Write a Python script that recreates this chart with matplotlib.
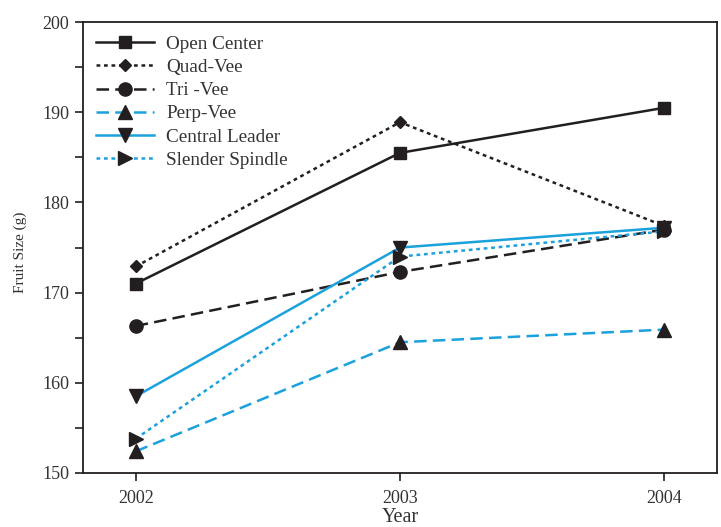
import matplotlib.pyplot as plt
from matplotlib.ticker import MultipleLocator

plt.rcParams['font.family'] = ['Liberation Serif', 'DejaVu Serif']

# Data
years = [2002, 2003, 2004]
open_center = [171.0, 185.5, 190.5]
quad_vee = [172.9, 188.9, 177.4]
tri_vee = [166.3, 172.3, 177.0]
perp_vee = [152.4, 164.5, 165.9]
central_leader = [158.5, 175.0, 177.2]
slender_spindle = [153.8, 174.0, 176.8]

black = '#231f20'
blue = '#1ba1dc'
txt = '#333333'

fig = plt.figure(figsize=(7.21, 5.27), dpi=100)
ax = fig.add_axes([0.115, 0.1025, 0.8795, 0.8555])

lw = 1.8
ms = 9
ax.plot(years, open_center, color=black, linestyle='-', linewidth=lw,
        marker='s', markersize=ms, markerfacecolor=black, markeredgecolor=black,
        label='Open Center')
ax.plot(years, quad_vee, color=black, linestyle=(0, (1.5, 1.5)), linewidth=lw,
        marker='D', markersize=6.5, markerfacecolor=black, markeredgecolor=black,
        label='Quad-Vee')
ax.plot(years, tri_vee, color=black, linestyle=(0, (5, 2.5)), linewidth=lw,
        marker='o', markersize=ms + 0.5, markerfacecolor=black, markeredgecolor=black,
        label='Tri -Vee')
ax.plot(years, perp_vee, color=blue, linestyle=(0, (5, 2.5)), linewidth=lw,
        marker='^', markersize=ms + 0.5, markerfacecolor=black, markeredgecolor=black,
        label='Perp-Vee')
ax.plot(years, central_leader, color=blue, linestyle='-', linewidth=lw,
        marker='v', markersize=ms + 0.5, markerfacecolor=black, markeredgecolor=black,
        label='Central Leader')
ax.plot(years, slender_spindle, color=blue, linestyle=(0, (1.5, 1.5)), linewidth=lw,
        marker='>', markersize=ms + 0.5, markerfacecolor=black, markeredgecolor=black,
        label='Slender Spindle')

ax.set_xlim(2001.8, 2004.2)
ax.set_ylim(150, 200)
ax.set_xticks(years)
ax.set_xticklabels([str(y) for y in years])
ax.yaxis.set_major_locator(MultipleLocator(10))
ax.yaxis.set_minor_locator(MultipleLocator(5))

for s in ax.spines.values():
    s.set_linewidth(1.3)
    s.set_color(black)
ax.tick_params(axis='both', which='both', direction='out', length=6, width=1.2,
               colors=black, labelsize=13, labelcolor=txt)
ax.tick_params(axis='x', pad=6)
ax.tick_params(axis='y', pad=4)

ax.set_xlabel('Year', fontsize=14.5, color=txt, labelpad=1)
ax.set_ylabel('Fruit Size (g)', fontsize=11, color=txt)
ax.yaxis.set_label_coords(-0.088, 0.49)

leg = ax.legend(loc='upper left', frameon=False, fontsize=13.8, handlelength=3.0,
                handletextpad=0.65, labelspacing=0.30, borderaxespad=0.3,
                bbox_to_anchor=(0.0, 1.0))
for t in leg.get_texts():
    t.set_color(txt)

plt.savefig('out.png', dpi=100)
